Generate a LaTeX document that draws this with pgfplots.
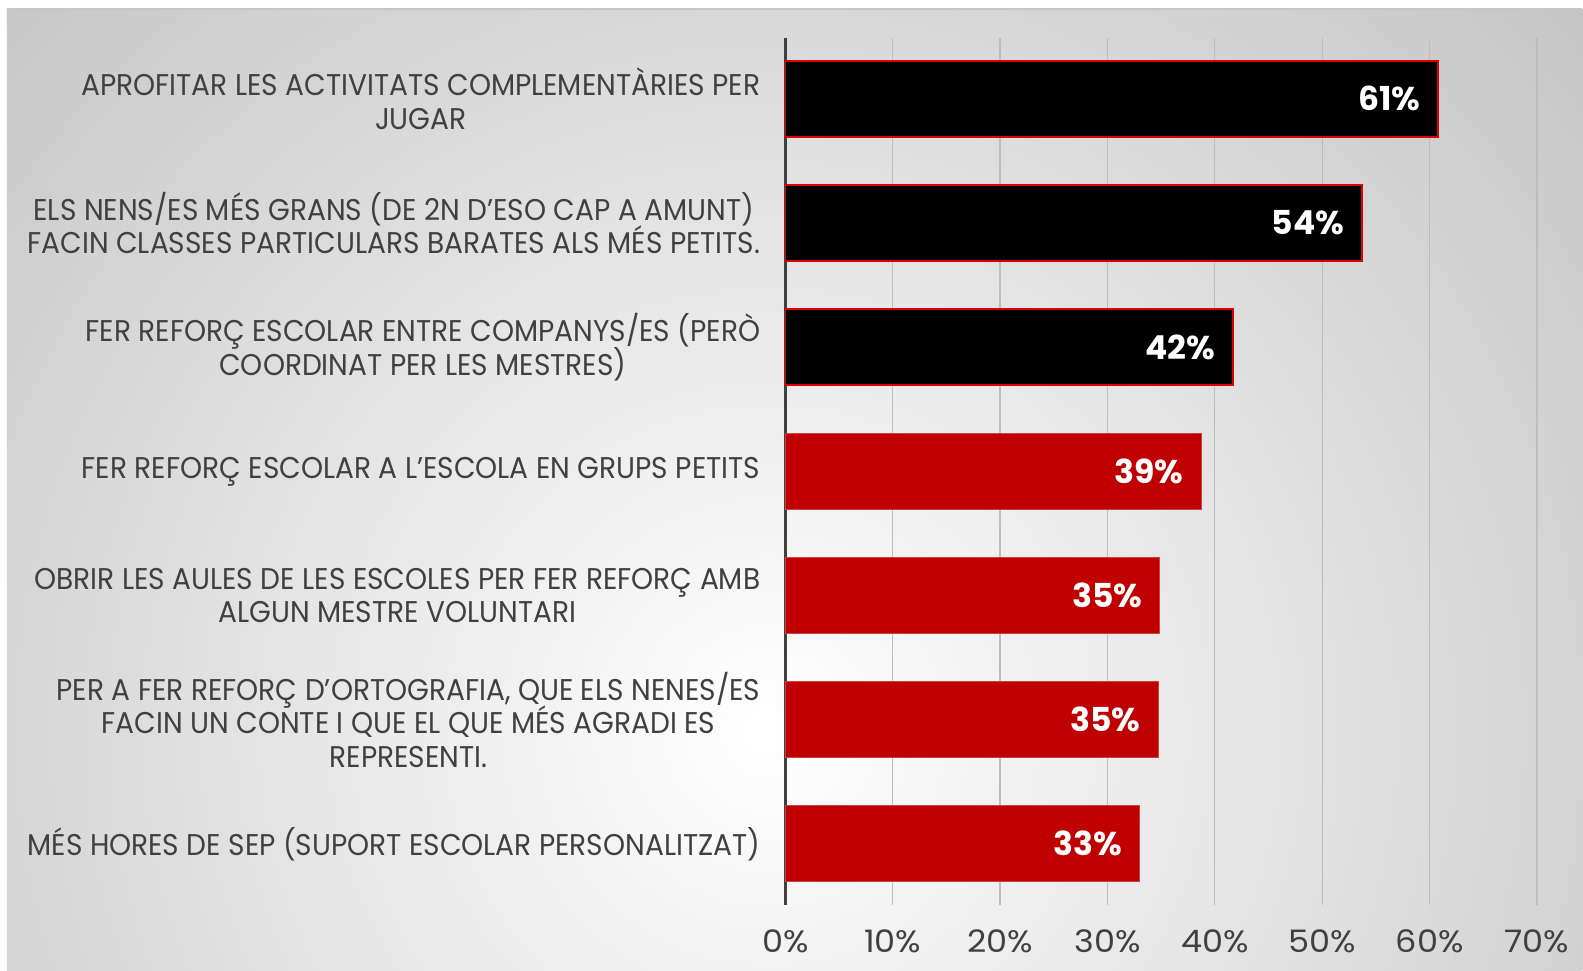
\documentclass[border=0pt]{standalone}
\usepackage{pgfplots}
\pgfplotsset{compat=1.18}
\usepackage{fontspec}
\setmainfont{Poppins}[FakeStretch=0.935]
\newfontfamily\tickfont{Poppins}[FakeStretch=1.08]
\newfontfamily\valfont{Poppins}[FakeStretch=1.0]
\setlength{\lineskiplimit}{-30pt}
\setlength{\lineskip}{0pt}

\definecolor{txt}{HTML}{404040}
\definecolor{barred}{HTML}{C00000}
\definecolor{edgered}{HTML}{E00000}
\definecolor{bgout}{HTML}{C0C0C0}
\definecolor{gridc}{HTML}{BDBDBD}

\begin{document}
\begin{tikzpicture}
% background, in pixel units of the reference (origin bottom left)
\begin{scope}[x=0.5pt,y=0.5pt]
  \fill[white] (0,0) rectangle (1583,971);
  \begin{scope}
    \clip (7,0) rectangle (1583,962);
    \fill[bgout] (7,0) rectangle (1583,962);
    \shade[inner color=white, outer color=bgout] (770,240) circle (1180);
  \end{scope}
  \draw[gray!45, line width=0.6pt] (7,962) -- (1583,962);
\end{scope}

\begin{axis}[
    at={(392.8pt,33pt)}, anchor=south west,
    scale only axis, width=376pt, height=433.5pt,
    xbar, bar shift=0pt, bar width=38pt,
    xmin=0, xmax=70, ymin=-0.49, ymax=6.49, y dir=reverse,
    xtick={0,10,...,70},
    xticklabel={\pgfmathprintnumber{\tick}\%},
    ytick={0,...,6},
    yticklabels={
      {APROFITAR LES ACTIVITATS COMPLEMENTÀRIES PER\\JUGAR},
      {ELS NENS/ES MÉS GRANS (DE 2N D’ESO CAP A AMUNT)\\FACIN CLASSES PARTICULARS BARATES ALS MÉS PETITS.},
      {FER REFORÇ ESCOLAR ENTRE COMPANYS/ES (PERÒ\\COORDINAT PER LES MESTRES)},
      {FER REFORÇ ESCOLAR A L’ESCOLA EN GRUPS PETITS},
      {OBRIR LES AULES DE LES ESCOLES PER FER REFORÇ AMB\\ALGUN MESTRE VOLUNTARI},
      {PER A FER REFORÇ D’ORTOGRAFIA, QUE ELS NENES/ES\\FACIN UN CONTE I QUE EL QUE MÉS AGRADI ES\\REPRESENTI.},
      {MÉS HORES DE SEP (SUPORT ESCOLAR PERSONALITZAT)}
    },
    axis line style={draw=none}, major tick length=0pt,
    xmajorgrids, grid style={gridc, line width=0.6pt},
    extra x ticks={0}, extra x tick labels={},
    extra x tick style={grid style={txt, line width=1.5pt}},
    tick label style={text=txt},
    xticklabel style={font=\tickfont\fontsize{15.5}{17}\selectfont, yshift=-9pt},
    yticklabel style={align=center, xshift=-9pt,
      font=\fontsize{15}{16.75}\selectfont},
    /pgf/number format/assume math mode=true,
    nodes near coords={\pgfmathprintnumber[fixed,precision=0]{\pgfplotspointmeta}\%},
    every node near coord/.append style={anchor=east, xshift=-8.5pt, text=white,
      font=\valfont\fontsize{16.5}{18}\selectfont\bfseries, inner sep=0pt},
    clip=false,
]
\addplot[fill=black, draw=edgered, line width=0.8pt]
  coordinates {(60.8,0) (53.7,1) (41.7,2)};
\addplot[fill=barred, draw=barred!75!white, line width=0.4pt]
  coordinates {(38.7,3) (34.85,4) (34.7,5) (33.0,6)};
\end{axis}
\end{tikzpicture}
\end{document}
